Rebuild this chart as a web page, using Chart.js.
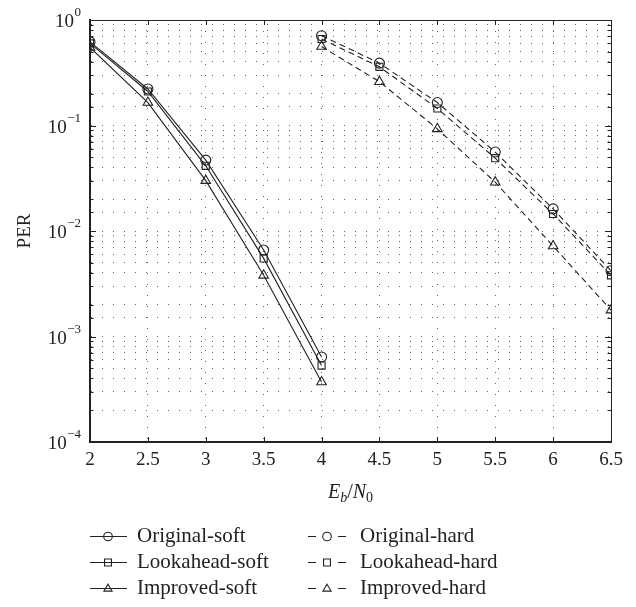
<!DOCTYPE html>
<html>
<head>
<meta charset="utf-8">
<script src="https://cdn.jsdelivr.net/npm/chart.js@4.4.1/dist/chart.umd.min.js"></script>
<style>
  html, body { margin: 0; padding: 0; background: #fff; }
  #wrap { width: 636px; height: 607px; position: relative; }
</style>
</head>
<body>
<div id="wrap"><canvas id="perChart"></canvas></div>
<script>
// Eb/N0 points
const softSnr = [2, 2.5, 3, 3.5, 4];
const hardSnr = [4, 4.5, 5, 5.5, 6, 6.5];

// PER values
const originalSoft = [0.62, 0.222, 0.047, 0.0066, 0.00064];
const lookaheadSoft = [0.60, 0.21, 0.0415, 0.0055, 0.00053];
const improvedSoft = [0.55, 0.165, 0.030, 0.0038, 0.00037];
const originalHard = [0.71, 0.39, 0.165, 0.056, 0.0162, 0.0042];
const lookaheadHard = [0.66, 0.36, 0.145, 0.049, 0.0145, 0.0038];
const improvedHard = [0.56, 0.26, 0.093, 0.029, 0.0072, 0.00178];

const seriesNames = ['Original-soft', 'Lookahead-soft', 'Improved-soft',
                     'Original-hard', 'Lookahead-hard', 'Improved-hard'];
const yTickExponents = [0, -1, -2, -3, -4];

const serif = '"Liberation Serif", "DejaVu Serif", serif';
const ink = '#222';

function pts(xs, ys) {
    return xs.map((x, i) => ({x: x, y: ys[i]}));
}

function makeSet(label, xs, ys, style, dashed) {
    return {
        label: label,
        data: pts(xs, ys),
        borderColor: ink,
        borderWidth: 1.1,
        borderDash: dashed ? [6, 4] : [],
        pointStyle: style,
        pointRadius: style === 'triangle' ? 5.5 : 5,
        pointBorderColor: ink,
        pointBorderWidth: 1.1,
        pointBackgroundColor: 'rgba(0,0,0,0)',
        fill: false,
        tension: 0
    };
}

function drawMarker(ctx, style, x, y, r) {
    ctx.beginPath();
    if (style === 'circle') {
        ctx.arc(x, y, r, 0, Math.PI * 2);
    } else if (style === 'rect') {
        ctx.rect(x - r * 0.8, y - r * 0.8, r * 1.6, r * 1.6);
    } else {
        ctx.moveTo(x, y - r);
        ctx.lineTo(x + r * 0.95, y + r * 0.6);
        ctx.lineTo(x - r * 0.95, y + r * 0.6);
        ctx.closePath();
    }
    ctx.stroke();
}

const matlabFrame = {
    id: 'matlabFrame',
    afterDraw(chart) {
        const ctx = chart.ctx;
        const a = chart.chartArea;
        const xs = chart.scales.x;
        const ys = chart.scales.y;
        ctx.save();
        ctx.strokeStyle = ink;
        ctx.setLineDash([]);

        // top and right box lines
        ctx.lineWidth = 1;
        ctx.beginPath();
        ctx.moveTo(a.left, a.top + 0.5);
        ctx.lineTo(a.right + 0.5, a.top + 0.5);
        ctx.lineTo(a.right + 0.5, a.bottom);
        ctx.stroke();

        // inward ticks
        ctx.beginPath();
        xs.ticks.forEach(t => {
            const px = Math.round(xs.getPixelForValue(t.value)) + 0.5;
            ctx.moveTo(px, a.bottom); ctx.lineTo(px, a.bottom - 5);
            ctx.moveTo(px, a.top); ctx.lineTo(px, a.top + 5);
        });
        ys.ticks.forEach(t => {
            const py = Math.round(ys.getPixelForValue(t.value)) + 0.5;
            const lg = Math.log10(t.value);
            const len = Math.abs(lg - Math.round(lg)) < 1e-6 ? 6 : 3.5;
            ctx.moveTo(a.left, py); ctx.lineTo(a.left + len, py);
            ctx.moveTo(a.right, py); ctx.lineTo(a.right - len, py);
        });
        ctx.stroke();

        // y tick labels 10^n
        ctx.fillStyle = ink;
        ctx.textBaseline = 'alphabetic';
        yTickExponents.forEach(e => {
            const py = ys.getPixelForValue(Math.pow(10, e));
            const expText = e === 0 ? '0' : '\u2212' + Math.abs(e);
            ctx.font = '13px ' + serif;
            const ew = ctx.measureText(expText).width;
            const right = a.left - 9;
            ctx.textAlign = 'left';
            ctx.fillText(expText, right - ew, py - 4);
            ctx.font = '19px ' + serif;
            ctx.textAlign = 'right';
            ctx.fillText('10', right - ew - 0.5, py + 7);
        });

        // y title
        ctx.save();
        ctx.translate(25, (a.top + a.bottom) / 2);
        ctx.rotate(-Math.PI / 2);
        ctx.font = '19px ' + serif;
        ctx.textAlign = 'center';
        ctx.textBaseline = 'middle';
        ctx.fillText('PER', 0, 0);
        ctx.restore();

        // x title E_b/N_0
        const parts = [
            {t: 'E', f: 'italic 20px ' + serif, dy: 0},
            {t: 'b', f: 'italic 14px ' + serif, dy: 4},
            {t: '/', f: '20px ' + serif, dy: 0},
            {t: 'N', f: 'italic 20px ' + serif, dy: 0},
            {t: '0', f: '14px ' + serif, dy: 4}
        ];
        let total = 0;
        parts.forEach(p => { ctx.font = p.f; p.w = ctx.measureText(p.t).width; total += p.w; });
        let cx = (a.left + a.right) / 2 - total / 2;
        const base = 498;
        ctx.textAlign = 'left';
        ctx.textBaseline = 'alphabetic';
        parts.forEach(p => { ctx.font = p.f; ctx.fillText(p.t, cx, base + p.dy); cx += p.w; });

        // legend, two columns
        const rows = [536, 562, 588];
        ctx.font = '21px ' + serif;
        ctx.textBaseline = 'middle';
        chart.data.datasets.forEach((ds, i) => {
            const col = i < 3 ? 0 : 1;
            const y = rows[i % 3] + 0.5;
            ctx.lineWidth = 1.1;
            ctx.strokeStyle = ink;
            if (col === 0) {
                ctx.beginPath();
                ctx.moveTo(90, y); ctx.lineTo(127, y);
                ctx.stroke();
                drawMarker(ctx, ds.pointStyle, 108, y, 4.3);
                ctx.fillText(ds.label, 137, rows[i % 3]);
            } else {
                ctx.beginPath();
                ctx.moveTo(308, y); ctx.lineTo(316, y);
                ctx.moveTo(338, y); ctx.lineTo(346, y);
                ctx.stroke();
                drawMarker(ctx, ds.pointStyle, 327, y, 4.3);
                ctx.fillText(ds.label, 360, rows[i % 3]);
            }
        });
        ctx.restore();
    }
};

const chart = new Chart(document.getElementById('perChart'), {
    type: 'line',
    data: {
        datasets: [
            makeSet(seriesNames[0], softSnr, originalSoft, 'circle', false),
            makeSet(seriesNames[1], softSnr, lookaheadSoft, 'rect', false),
            makeSet(seriesNames[2], softSnr, improvedSoft, 'triangle', false),
            makeSet(seriesNames[3], hardSnr, originalHard, 'circle', true),
            makeSet(seriesNames[4], hardSnr, lookaheadHard, 'rect', true),
            makeSet(seriesNames[5], hardSnr, improvedHard, 'triangle', true)
        ]
    },
    options: {
        responsive: true,
        maintainAspectRatio: false,
        animation: false,
        layout: {
            padding: {top: 20, right: 25, bottom: 100, left: 0}
        },
        plugins: {
            legend: {display: false},
            tooltip: {enabled: false}
        },
        scales: {
            x: {
                type: 'linear',
                min: 2,
                max: 6.5,
                afterFit: s => { s.height = 65; },
                ticks: {
                    stepSize: 0.5,
                    color: ink,
                    padding: 7,
                    font: {family: serif, size: 19},
                    callback: v => String(v)
                },
                grid: {
                    color: '#666',
                    lineWidth: 1,
                    drawTicks: false
                },
                border: {display: true, color: ink, width: 2, dash: [1, 10]}
            },
            y: {
                type: 'logarithmic',
                min: 1e-4,
                max: 1,
                afterFit: s => { s.width = 90; },
                ticks: {display: false, autoSkip: false},
                grid: {
                    color: '#666',
                    lineWidth: 1,
                    drawTicks: false
                },
                border: {display: true, color: ink, width: 2, dash: [1, 10]}
            }
        }
    },
    plugins: [matlabFrame]
});
</script>
</body>
</html>
